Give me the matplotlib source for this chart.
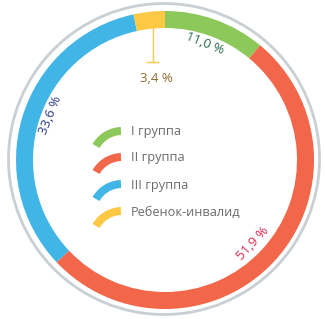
import matplotlib
matplotlib.use("Agg")
import matplotlib.pyplot as plt
from matplotlib.patches import Wedge, Circle

categories = ["I группа", "II группа", "III группа", "Ребенок-инвалид"]
values = [11.0, 51.9, 33.6, 3.4]
value_labels = ["11,0 %", "51,9 %", "33,6 %", "3,4 %"]
colors = ["#8cc85a", "#f26749", "#41b6e6", "#fdc945"]
label_colors = ["#2b6b4c", "#d4264b", "#2d3a88", "#8a6b2b"]

plt.rcParams['font.family'] = ['Open Sans', 'DejaVu Sans']

H = 319
fig = plt.figure(figsize=(3.25, 3.19), dpi=100)
ax = fig.add_axes([0, 0, 1, 1])

cx, cy = 165, H - 160
R = 149
ax.pie(values, colors=colors, startangle=90, counterclock=False,
       center=(cx, cy), radius=R, wedgeprops=dict(width=17, linewidth=0),
       frame=True)
ax.set_xlim(0, 325)
ax.set_ylim(0, H)
ax.set_aspect('equal')
ax.axis('off')

ax.add_patch(Circle((164, H - 159), 155.5, fill=False, lw=2.0, ec="#c9cfd3"))

# value labels
ax.text(205, H - 43, value_labels[0], color=label_colors[0], fontsize=9.5,
        rotation=-22, ha='center', va='center')
ax.text(253, H - 243, value_labels[1], color=label_colors[1], fontsize=9.5,
        rotation=47, ha='center', va='center')
ax.text(50, H - 115, value_labels[2], color=label_colors[2], fontsize=9.5,
        rotation=68, ha='center', va='center')
ax.text(156, H - 79, value_labels[3], color=label_colors[3], fontsize=9.5,
        ha='center', va='center')
# leader line for small segment
ax.plot([152.5, 152.5], [H - 28, H - 62], color=colors[3], lw=1.0)
ax.plot([147, 158], [H - 62, H - 62], color=colors[3], lw=1.0)

# legend
text_y = [132, 158, 185, 212]
for i, cat in enumerate(categories):
    ty = H - text_y[i]
    ax.add_patch(Wedge((122, ty - 29), 34, 92, 150, width=8,
                       facecolor=colors[i], edgecolor='none'))
    ax.text(131, ty, cat, color="#6b6b6b", fontsize=9.2,
            ha='left', va='center')

fig.savefig("out.png", dpi=100)
